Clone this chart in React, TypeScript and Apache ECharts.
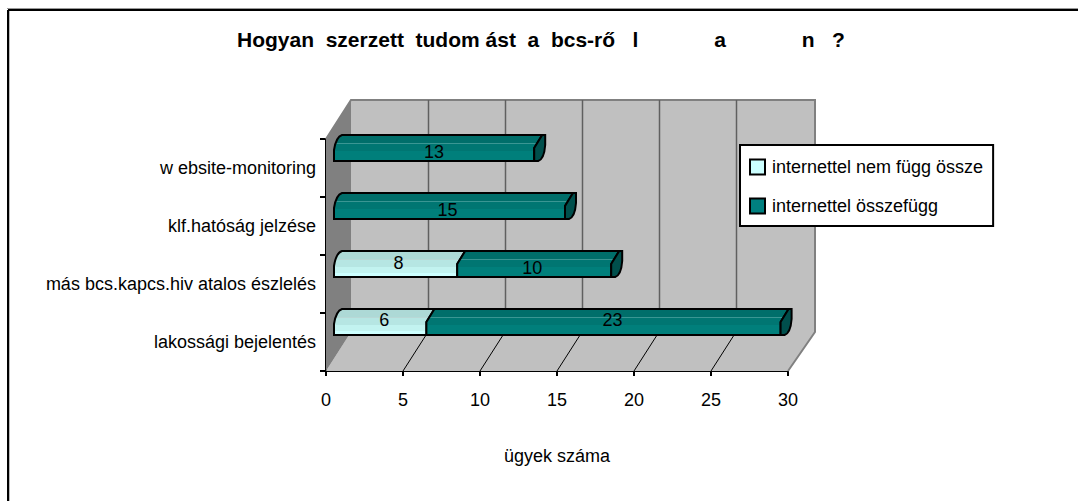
import React, { useEffect, useRef } from "react";
import * as echarts from "echarts";

const categories = ["lakossági bejelentés", "más bcs.kapcs.hiv atalos észlelés", "klf.hatóság jelzése", "w ebsite-monitoring"];
const seriesNames = ["internettel nem függ össze", "internettel összefügg"];
const lightValues = [6, 8, 0, 0];
const darkValues = [23, 10, 15, 13];
const wallTicks = [5, 10, 15, 20, 25];
const lightLabelNudgeX = [4, 3, 0, 0];
const lightLabelNudgeY = [-2, -1, 0, 0];
const darkLabelNudgeX = [9, -2, -2, 0];
const darkLabelNudgeY = [-2, 4, 4, 4];
const nb = (n: number) => "\u00a0".repeat(n);
const titleText = "Hogyan" + nb(2) + "szerzett" + nb(2) + "tudom ást" + nb(2) + "a" + nb(2) + "bcs-rő" + nb(3) + "l" + nb(13) + "a" + nb(13) + "n" + nb(3) + "?";

const FONT = "'Liberation Sans', Arial, sans-serif";
const DX = 25;
const DY = -39;
const BAR_DX = 8;

const bands = (stops: [number, number, string][]) =>
  new echarts.graphic.LinearGradient(
    0, 0, 0, 1,
    stops.flatMap(([a, b, c]) => [{ offset: a, color: c }, { offset: b, color: c }])
  );

const lightFill = () =>
  bands([
    [0, 0.3, "#add9d6"],
    [0.3, 0.34, "#b8d8d6"],
    [0.34, 0.6, "#b6e6e3"],
    [0.6, 0.85, "#c2f3f0"],
    [0.85, 1, "#ccffff"],
  ]);
const darkFill = () =>
  bands([
    [0, 0.3, "#006e6a"],
    [0.3, 0.35, "#3a9693"],
    [0.35, 0.6, "#007672"],
    [0.6, 1, "#007f7b"],
  ]);

function barItem(api: any, fill: () => any) {
  const start = api.value(0);
  const end = api.value(1);
  const cat = api.value(2);
  if (end <= start) return null;
  const [x0, cy] = api.coord([start, cat]);
  const [x1] = api.coord([end, cat]);
  const xs = x0 + BAR_DX;
  const xe = x1 + BAR_DX;
  const top = cy - 33;
  const bottom = cy - 7;
  const left =
    start === 0
      ? `M${xs} ${bottom}L${xs} ${bottom - 11}Q${xs + 2} ${top + 2} ${xs + 8} ${top}`
      : `M${xs} ${bottom}L${xs} ${bottom - 13}L${xs + 8} ${top}`;
  const body = `${left}L${xe + 8} ${top}L${xe} ${bottom - 13}L${xe} ${bottom}Z`;
  const cap = `M${xe + 8} ${top}L${xe + 11} ${top}L${xe + 11} ${top + 10}Q${xe + 10} ${bottom - 2} ${xe + 4} ${bottom}L${xe} ${bottom}L${xe} ${bottom - 13}Z`;
  const children: any[] = [
    { type: "path", shape: { pathData: body }, style: { fill: fill(), stroke: "#000", lineWidth: 2 } },
  ];
  if (api.value(5)) {
    children.push({ type: "path", shape: { pathData: cap }, style: { fill: "#004f4c", stroke: "#000", lineWidth: 2 } });
  }
  children.push({
    type: "text",
    style: {
      text: String(end - start),
      x: (xs + xe) / 2 + api.value(3),
      y: (top + bottom) / 2 + api.value(4),
      align: "center",
      verticalAlign: "middle",
      font: `18px ${FONT}`,
      fill: "#000",
    },
  });
  return { type: "group", children };
}

function barData(starts: number[], values: number[], nx: number[], ny: number[], cap: boolean) {
  return values.map((v, i) => [starts[i], starts[i] + v, i, nx[i], ny[i], cap ? 1 : 0]);
}

export default function App() {
  const ref = useRef<HTMLDivElement>(null);
  useEffect(() => {
    const chart = echarts.init(ref.current!, undefined, { renderer: "svg" });
    const zeros = lightValues.map(() => 0);
    const blue = (c: string) => ({ color: c, borderColor: "#000", borderWidth: 2 });
    chart.setOption({
      animation: false,
      backgroundColor: "#fff",
      textStyle: { fontFamily: FONT },
      title: {
        text: titleText,
        left: 237,
        top: 29,
        padding: 0,
        textStyle: { fontFamily: FONT, fontSize: 21, fontWeight: "bold", color: "#000" },
      },
      legend: {
        orient: "vertical",
        left: 740,
        top: 145,
        padding: [13, 10, 11, 9],
        itemGap: 21,
        itemWidth: 15,
        itemHeight: 15,
        backgroundColor: "#fff",
        borderColor: "#000",
        borderWidth: 2,
        textStyle: { fontFamily: FONT, fontSize: 18, color: "#000", padding: [0, 0, 0, 2] },
        data: [
          { name: seriesNames[0], icon: "rect", itemStyle: blue("#ccffff") },
          { name: seriesNames[1], icon: "rect", itemStyle: blue("#008080") },
        ],
      },
      grid: { left: 326, top: 139, width: 462, height: 232, containLabel: false },
      xAxis: {
        type: "value",
        min: 0,
        max: 30,
        interval: 5,
        name: "ügyek száma",
        nameLocation: "middle",
        nameGap: 85,
        nameTextStyle: { fontFamily: FONT, fontSize: 18, color: "#000", verticalAlign: "middle" },
        axisLine: { show: true, lineStyle: { color: "#000", width: 2 } },
        axisTick: { show: true, length: 5, lineStyle: { color: "#000", width: 2 } },
        axisLabel: { margin: 20, fontFamily: FONT, fontSize: 18, color: "#000" },
        splitLine: { show: false },
      },
      yAxis: {
        type: "category",
        data: categories,
        axisLine: { show: true, lineStyle: { color: "#000", width: 2 } },
        axisTick: { show: true, length: 6, lineStyle: { color: "#000", width: 2 } },
        axisLabel: { margin: 10, fontFamily: FONT, fontSize: 18, color: "#000" },
        splitLine: { show: false },
      },
      series: [
        {
          type: "custom",
          name: "walls",
          silent: true,
          z: 1,
          clip: false,
          data: [[0]],
          encode: { x: 0 },
          renderItem: (params: any) => {
            const { x, y, width: w, height: h } = params.coordSys;
            const bx = x + DX;
            const by = y + DY;
            const bottom = y + h;
            return {
              type: "group",
              children: [
                { type: "polygon", shape: { points: [[bx, by], [bx + w + 2, by], [bx + w + 2, bottom + DY], [bx, bottom + DY]] }, style: { fill: "#c0c0c0" } },
                { type: "polygon", shape: { points: [[x, bottom], [bx, bottom + DY], [bx + w + 2, bottom + DY], [x + w, bottom]] }, style: { fill: "#c0c0c0" } },
                { type: "polygon", shape: { points: [[x, y], [bx, by], [bx, bottom + DY], [x, bottom]] }, style: { fill: "#808080" } },
                { type: "polyline", shape: { points: [[x, y], [bx, by], [bx + w + 2, by], [bx + w + 2, bottom + DY], [x + w, bottom]] }, style: { fill: "none", stroke: "#808080", lineWidth: 2 } },
              ],
            };
          },
        },
        {
          type: "custom",
          name: "gridlines",
          silent: true,
          z: 1,
          clip: false,
          data: wallTicks.map((t) => [t]),
          encode: { x: 0 },
          renderItem: (params: any, api: any) => {
            const { y, height: h } = params.coordSys;
            const [px] = api.coord([api.value(0), 0]);
            const bottom = y + h;
            return {
              type: "group",
              children: [
                { type: "line", shape: { x1: px + DX + 0.5, y1: y + DY, x2: px + DX + 0.5, y2: bottom + DY }, style: { stroke: "#606060", lineWidth: 1.5 } },
                { type: "line", shape: { x1: px, y1: bottom, x2: px + DX, y2: bottom + DY }, style: { stroke: "#000", lineWidth: 1 } },
              ],
            };
          },
        },
        {
          type: "custom",
          name: seriesNames[0],
          z: 2,
          clip: false,
          itemStyle: { color: "#ccffff" },
          data: barData(zeros, lightValues, lightLabelNudgeX, lightLabelNudgeY, false),
          encode: { x: [0, 1], y: 2 },
          renderItem: (_: any, api: any) => barItem(api, lightFill),
        },
        {
          type: "custom",
          name: seriesNames[1],
          z: 3,
          clip: false,
          itemStyle: { color: "#008080" },
          data: barData(lightValues, darkValues, darkLabelNudgeX, darkLabelNudgeY, true),
          encode: { x: [0, 1], y: 2 },
          renderItem: (_: any, api: any) => barItem(api, darkFill),
        },
      ],
      graphic: [
        { type: "line", shape: { x1: 8, y1: 10, x2: 1078, y2: 10 }, style: { stroke: "#000", lineWidth: 2 }, silent: true },
        { type: "line", shape: { x1: 8, y1: 10, x2: 8, y2: 501 }, style: { stroke: "#000", lineWidth: 2 }, silent: true },
        { type: "line", shape: { x1: 7, y1: 8.5, x2: 1078, y2: 8.5 }, style: { stroke: "#999", lineWidth: 1 }, silent: true },
        { type: "line", shape: { x1: 9.5, y1: 11, x2: 9.5, y2: 501 }, style: { stroke: "#bbb", lineWidth: 1 }, silent: true },
      ],
    });
    return () => chart.dispose();
  }, []);
  return <div ref={ref} style={{ position: "absolute", left: 0, top: 0, width: 1078, height: 501 }} />;
}
